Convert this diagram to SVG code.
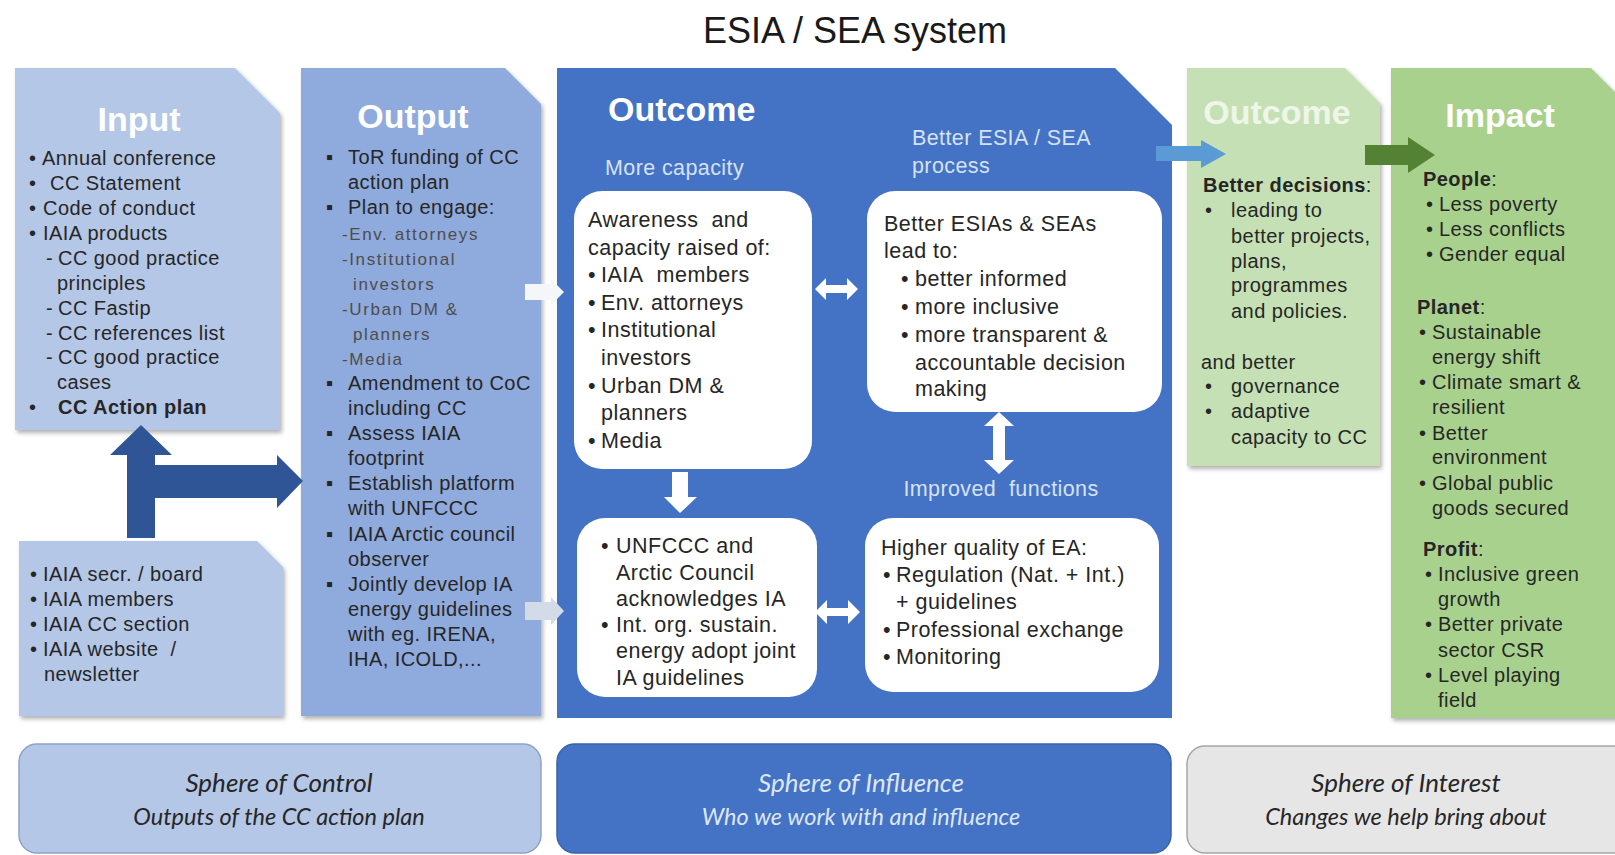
<svg xmlns="http://www.w3.org/2000/svg" width="1615" height="855" viewBox="0 0 1615 855">
<style>
.f{font-family:"Liberation Sans",Arial,sans-serif;fill:#262626}
.s20{font-size:20px;letter-spacing:0.45px}
.s21{font-size:21.5px;letter-spacing:0.5px}
.sub{font-size:17px;fill:#4d4d4d;letter-spacing:1.6px}
.ttl{font-family:"Liberation Sans",Arial,sans-serif;font-weight:bold;font-size:34px;fill:#ffffff}
.hd{font-family:"Liberation Sans",Arial,sans-serif;font-size:21.5px;fill:#d5e2f5;letter-spacing:0.4px}
.bold{font-weight:bold}
.sph{font-family:Lato,"Open Sans",sans-serif;font-style:italic;font-size:26px;text-anchor:middle}
.sph2{font-size:23.5px}
.shadow{filter:url(#sh)}
</style>
<defs>
<filter id="sh" x="-10%" y="-10%" width="130%" height="130%">
<feDropShadow dx="2" dy="3" stdDeviation="2" flood-color="#000" flood-opacity="0.3"/>
</filter>
</defs>
<rect width="1615" height="855" fill="#ffffff"/>
<text x="855" y="43" text-anchor="middle" style="font-family:'Liberation Sans',Arial,sans-serif;font-size:36px;fill:#1a1a1a">ESIA / SEA system</text>

<g id="input">
<path class="shadow" d="M15,68 H235 L280,113 V430 H15 Z" fill="#b4c7e7"/>
<text class="ttl" x="139" y="131" text-anchor="middle">Input</text>
<g class="f s20">
<text x="29" y="165">•<tspan x="42">Annual conference</tspan></text>
<text x="29" y="190">•<tspan x="50">CC Statement</tspan></text>
<text x="29" y="215">•<tspan x="43">Code of conduct</tspan></text>
<text x="29" y="240">•<tspan x="43">IAIA products</tspan></text>
<text x="46" y="265">-<tspan x="58">CC good practice</tspan></text>
<text x="57" y="290">principles</text>
<text x="46" y="315">-<tspan x="58">CC Fastip</tspan></text>
<text x="46" y="340">-<tspan x="58">CC references list</tspan></text>
<text x="46" y="364">-<tspan x="58">CC good practice</tspan></text>
<text x="57" y="389">cases</text>
<text x="29" y="414">•<tspan x="58" class="bold">CC Action plan</tspan></text>
</g>
</g>

<g id="resources">
<path class="shadow" d="M19,541 H257 L283,567 V716 H19 Z" fill="#b4c7e7"/>
<g class="f s20">
<text x="30" y="581">•<tspan x="43">IAIA secr. / board</tspan></text>
<text x="30" y="606">•<tspan x="43">IAIA members</tspan></text>
<text x="30" y="631">•<tspan x="43">IAIA CC section</tspan></text>
<text x="30" y="656">•<tspan x="43">IAIA website&#160; /</tspan></text>
<text x="44" y="681">newsletter</text>
</g>
</g>

<g id="output">
<path class="shadow" d="M301,68 H505 L541,104 V716 H301 Z" fill="#8faadc"/>
<text class="ttl" x="413" y="128" text-anchor="middle">Output</text>
<g class="f s20">
<text x="326" y="164">▪<tspan x="348">ToR funding of CC</tspan></text>
<text x="348" y="189">action plan</text>
<text x="326" y="214">▪<tspan x="348">Plan to engage:</tspan></text>
<text class="sub" x="342" y="240">-Env. attorneys</text>
<text class="sub" x="342" y="265">-Institutional</text>
<text class="sub" x="353" y="290">investors</text>
<text class="sub" x="342" y="315">-Urban DM &amp;</text>
<text class="sub" x="353" y="340">planners</text>
<text class="sub" x="342" y="365">-Media</text>
<text x="326" y="390">▪<tspan x="348">Amendment to CoC</tspan></text>
<text x="348" y="415">including CC</text>
<text x="326" y="440">▪<tspan x="348">Assess IAIA</tspan></text>
<text x="348" y="465">footprint</text>
<text x="326" y="490">▪<tspan x="348">Establish platform</tspan></text>
<text x="348" y="515">with UNFCCC</text>
<text x="326" y="541">▪<tspan x="348">IAIA Arctic council</tspan></text>
<text x="348" y="566">observer</text>
<text x="326" y="591">▪<tspan x="348">Jointly develop IA</tspan></text>
<text x="348" y="616">energy guidelines</text>
<text x="348" y="641">with eg. IRENA,</text>
<text x="348" y="666">IHA, ICOLD,...</text>
</g>
</g>

<g id="outcome-esia">
<path d="M557,68 H1115 L1172,125 V718 H557 Z" fill="#4472c4"/>
<text class="ttl" x="608" y="121">Outcome</text>
<text class="hd" x="605" y="175">More capacity</text>
<text class="hd" x="912" y="145">Better ESIA / SEA</text>
<text class="hd" x="912" y="173">process</text>
<text class="hd" x="1001" y="496" text-anchor="middle">Improved&#160; functions</text>
</g>

<g id="awareness">
<rect x="574" y="191" width="238" height="278" rx="28" fill="#ffffff"/>
<g class="f s21">
<text x="588" y="227">Awareness&#160; and</text>
<text x="588" y="255">capacity raised of:</text>
<text x="588" y="282">•<tspan x="601">IAIA&#160; members</tspan></text>
<text x="588" y="310">•<tspan x="601">Env. attorneys</tspan></text>
<text x="588" y="337">•<tspan x="601">Institutional</tspan></text>
<text x="601" y="365">investors</text>
<text x="588" y="393">•<tspan x="601">Urban DM &amp;</tspan></text>
<text x="601" y="420">planners</text>
<text x="588" y="448">•<tspan x="601">Media</tspan></text>
</g>
</g>

<g id="better-esia">
<rect x="867" y="191" width="295" height="221" rx="28" fill="#ffffff"/>
<g class="f s21">
<text x="884" y="231">Better ESIAs &amp; SEAs</text>
<text x="884" y="258">lead to:</text>
<text x="901" y="286">•<tspan x="915">better informed</tspan></text>
<text x="901" y="314">•<tspan x="915">more inclusive</tspan></text>
<text x="901" y="342">•<tspan x="915">more transparent &amp;</tspan></text>
<text x="915" y="370">accountable decision</text>
<text x="915" y="396">making</text>
</g>
</g>

<g id="unfccc">
<rect x="577" y="518" width="240" height="179" rx="28" fill="#ffffff"/>
<g class="f s21">
<text x="601" y="553">•<tspan x="616">UNFCCC and</tspan></text>
<text x="616" y="580">Arctic Council</text>
<text x="616" y="606">acknowledges IA</text>
<text x="601" y="632">•<tspan x="616">Int. org. sustain.</tspan></text>
<text x="616" y="658">energy adopt joint</text>
<text x="616" y="685">IA guidelines</text>
</g>
</g>

<g id="higher-quality">
<rect x="865" y="518" width="294" height="174" rx="28" fill="#ffffff"/>
<g class="f s21">
<text x="881" y="555">Higher quality of EA:</text>
<text x="883" y="582">•<tspan x="896">Regulation (Nat. + Int.)</tspan></text>
<text x="896" y="609">+ guidelines</text>
<text x="883" y="637">•<tspan x="896">Professional exchange</tspan></text>
<text x="883" y="664">•<tspan x="896">Monitoring</tspan></text>
</g>
</g>

<g id="outcome-decisions">
<path class="shadow" d="M1187,68 H1345 L1380,103 V466 H1187 Z" fill="#c5e0b4"/>
<text class="ttl" x="1277" y="124" text-anchor="middle" style="fill:#eef6e9">Outcome</text>
<g class="f s20">
<text x="1203" y="192"><tspan class="bold">Better decisions</tspan>:</text>
<text x="1205" y="217">•<tspan x="1231">leading to</tspan></text>
<text x="1231" y="243">better projects,</text>
<text x="1231" y="268">plans,</text>
<text x="1231" y="292">programmes</text>
<text x="1231" y="318">and policies.</text>
<text x="1201" y="369">and better</text>
<text x="1205" y="393">•<tspan x="1231">governance</tspan></text>
<text x="1205" y="418">•<tspan x="1231">adaptive</tspan></text>
<text x="1231" y="444">capacity to CC</text>
</g>
</g>

<g id="impact">
<path class="shadow" d="M1391,68 H1591 L1640,117 V718 H1391 Z" fill="#a9d18e"/>
<text class="ttl" x="1500" y="127" text-anchor="middle">Impact</text>
<g class="f s20">
<text x="1423" y="186"><tspan class="bold">People</tspan>:</text>
<text x="1426" y="211">•<tspan x="1439">Less poverty</tspan></text>
<text x="1426" y="236">•<tspan x="1439">Less conflicts</tspan></text>
<text x="1426" y="261">•<tspan x="1439">Gender equal</tspan></text>
<text x="1417" y="314"><tspan class="bold">Planet</tspan>:</text>
<text x="1419" y="339">•<tspan x="1432">Sustainable</tspan></text>
<text x="1432" y="364">energy shift</text>
<text x="1419" y="389">•<tspan x="1432">Climate smart &amp;</tspan></text>
<text x="1432" y="414">resilient</text>
<text x="1419" y="440">•<tspan x="1432">Better</tspan></text>
<text x="1432" y="464">environment</text>
<text x="1419" y="490">•<tspan x="1432">Global public</tspan></text>
<text x="1432" y="515">goods secured</text>
<text x="1423" y="556"><tspan class="bold">Profit</tspan>:</text>
<text x="1425" y="581">•<tspan x="1438">Inclusive green</tspan></text>
<text x="1438" y="606">growth</text>
<text x="1425" y="631">•<tspan x="1438">Better private</tspan></text>
<text x="1438" y="657">sector CSR</text>
<text x="1425" y="682">•<tspan x="1438">Level playing</tspan></text>
<text x="1438" y="707">field</text>
</g>
</g>

<g id="sphere-control">
<rect x="19" y="744" width="522" height="109" rx="18" fill="#b4c7e7" stroke="#8da3c9" stroke-width="1.5"/>
<text class="sph" x="279" y="792" fill="#262626">Sphere of Control</text>
<text class="sph sph2" x="279" y="825" fill="#262626">Outputs of the CC action plan</text>
</g>
<g id="sphere-influence">
<rect x="557" y="744" width="614" height="109" rx="18" fill="#4472c4" stroke="#3a62aa" stroke-width="1.5"/>
<text class="sph" x="861" y="792" fill="#dde7f6">Sphere of Influence</text>
<text class="sph sph2" x="861" y="825" fill="#dde7f6">Who we work with and influence</text>
</g>
<g id="sphere-interest">
<rect x="1187" y="746" width="450" height="107" rx="18" fill="#e6e6e6" stroke="#a6a6a6" stroke-width="1.5"/>
<text class="sph" x="1406" y="792" fill="#262626">Sphere of Interest</text>
<text class="sph sph2" x="1406" y="825" fill="#262626">Changes we help bring about</text>
</g>

<g id="connectors">
<polygon points="127,538 127,455 110,455 141,425 172,455 155,455 155,465 277,465 277,455 303,481 277,508 277,498 155,498 155,538" fill="#2f5597"/>
<polygon points="525,284 551,284 551,279 564,292 551,305 551,300 525,300" fill="#f4f6fa"/>
<polygon points="525,602 551,602 551,597 564,611 551,625 551,620 525,620" fill="#d3dbe8"/>
<polygon points="815,289 826,278 826,285 847,285 847,278 858,289 847,300 847,293 826,293 826,300" fill="#ffffff"/>
<polygon points="815,612 827,600 827,608 848,608 848,600 860,612 848,624 848,616 827,616 827,624" fill="#ffffff"/>
<polygon points="999,412 1014,426 1005,426 1005,460 1014,460 999,474 984,460 993,460 993,426 984,426" fill="#ffffff"/>
<polygon points="672,472 688,472 688,497 697,497 680,513 664,497 672,497" fill="#ffffff"/>
<polygon points="1156,146 1201,146 1201,140 1226,154 1201,168 1201,161 1156,161" fill="#5b9bd5"/>
<polygon points="1365,145 1408,145 1408,137 1435,155 1408,173 1408,165 1365,165" fill="#548235"/>
</g>
</svg>
